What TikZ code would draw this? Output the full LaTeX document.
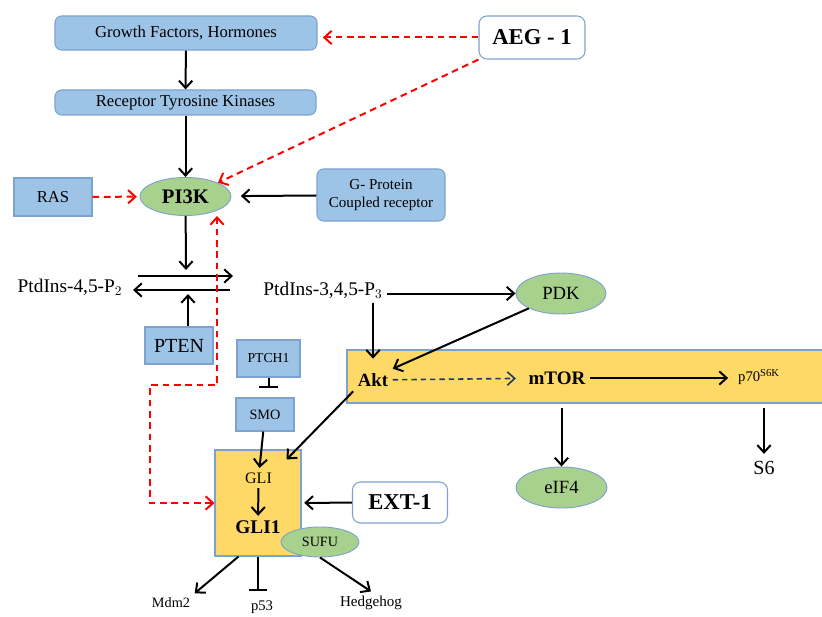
\documentclass[tikz,border=0pt]{standalone}
\usepackage{fontspec}
\setmainfont{Liberation Serif}
\usetikzlibrary{shapes, arrows.meta, positioning, calc}
\definecolor{boxblue}{HTML}{9DC3E6}
\definecolor{edgeblue}{HTML}{7DA2CF}
\definecolor{leafgreen}{HTML}{A9D18E}
\definecolor{paleyellow}{HTML}{FFD966}
\definecolor{darknavy}{HTML}{1F3864}
\newcommand{\fs}[1]{\fontsize{#1}{#1}\selectfont}

\begin{document}
\begin{tikzpicture}[x=0.75pt, y=-0.75pt, >={Straight Barb[length=5.5pt,width=10pt]},
    bluebox/.style={draw=edgeblue, fill=boxblue, rectangle, inner sep=0pt, line width=0.8pt},
    roundbox/.style={bluebox, rounded corners=5pt},
    whitebox/.style={draw=edgeblue, fill=white, rectangle, rounded corners=6pt, inner sep=0pt, line width=0.8pt},
    greenell/.style={draw=edgeblue, fill=leafgreen, ellipse, inner sep=0pt, line width=0.7pt},
    act/.style={->, line width=1.5pt},
    redact/.style={->, red, line width=1.5pt, dash pattern=on 5pt off 3.5pt},
    blocked/.style={-{Bar[width=14pt]}, line width=1.5pt}]
    \useasboundingbox (0,0) rectangle (822,617);

    % upstream of PI3K
    \node [roundbox, minimum width=196.5pt, minimum height=25.5pt, font=\fs{12.5}] (gf) at (186,33) {Growth Factors, Hormones};
    \node [roundbox, minimum width=195.75pt, minimum height=18.75pt, font=\fs{12.5}] (rtk) at (185.5,102.5) {Receptor Tyrosine Kinases};
    \node [whitebox, minimum width=79.5pt, minimum height=32.25pt, font=\fs{17}\bfseries] (aeg) at (532,37.5) {AEG - 1};
    \node [greenell, minimum width=68.25pt, minimum height=28.5pt, font=\fs{15.5}\bfseries] (pik) at (185.5,196.5) {PI3K};
    \node [bluebox, minimum width=58.5pt, minimum height=28.5pt, font=\fs{12.5}] (ras) at (53,197) {RAS};
    \node [roundbox, minimum width=96pt, minimum height=39pt, font=\fs{11.3}, align=center] (gpcr) at (381,195) {G- Protein\\[2pt]Coupled receptor};

    % phosphoinositides
    \node [font=\fs{14.5}] (pip2) at (70,287) {PtdIns-4,5-P$_2$};
    \node [font=\fs{14.5}] (pip3) at (323,290) {PtdIns-3,4,5-P$_3$};
    \node [bluebox, minimum width=51pt, minimum height=27.75pt, font=\fs{15}] (pten) at (179,345.5) {PTEN};
    \coordinate (fork) at (186,270);
    \coordinate (fwdA) at (138,276);
    \coordinate (fwdB) at (233,276);
    \coordinate (revA) at (230,290);
    \coordinate (revB) at (133,290);
    \coordinate (revmid) at (188,294);

    % hedgehog branch
    \node [bluebox, minimum width=47.25pt, minimum height=27.75pt, font=\fs{10.3}] (ptch) at (268.5,358.5) {PTCH1};
    \node [bluebox, minimum width=43.5pt, minimum height=24.75pt, font=\fs{10.7}] (smo) at (265,414.5) {SMO};
    \node [draw=edgeblue, fill=paleyellow, rectangle, minimum width=64.5pt, minimum height=79.5pt, line width=0.8pt] (glibox) at (258,503) {};
    \node [font=\fs{12}] (gli) at (258.5,478) {GLI};
    \node [font=\fs{14.5}\bfseries] (gli1) at (258,527) {GLI1};
    \node [greenell, minimum width=58.5pt, minimum height=22.5pt, font=\fs{10.6}] (sufu) at (320,542) {SUFU};
    \node [whitebox, minimum width=71.25pt, minimum height=30.75pt, font=\fs{17}\bfseries] (ext) at (400,502.5) {EXT-1};
    \node [font=\fs{10.7}] (mdm2) at (171,603) {Mdm2};
    \node [font=\fs{11}] (p53) at (262,607) {p53};
    \node [font=\fs{11.3}] (hh) at (371,603) {Hedgehog};
    \coordinate (loopA) at (150,385);
    \coordinate (loopB) at (217,385);

    % Akt / mTOR
    \node [greenell, minimum width=67.5pt, minimum height=30.75pt, font=\fs{14}] (pdk) at (561,293.5) {PDK};
    \node [draw=edgeblue, fill=paleyellow, rectangle, minimum width=357.75pt, minimum height=39.75pt, line width=0.8pt] (bar) at (585.5,376.5) {};
    \node [font=\fs{14}\bfseries] (akt) at (373,380) {Akt};
    \node [font=\fs{14.3}\bfseries] (mtor) at (557,378) {mTOR};
    \node [font=\fs{11}] (p70) at (759,377) {p70\textsuperscript{\fs{8}S6K}};
    \node [greenell, minimum width=68.25pt, minimum height=30.75pt, font=\fs{14}] (eif) at (561.5,487.5) {eIF4};
    \node [font=\fs{15}] (s6) at (764,468) {S6};

    \draw [act] (gf) -- (rtk);
    \draw [act] (rtk) -- (pik);
    \draw [redact, shorten >=4pt] (aeg.west) -- (aeg.west -| gf.east);
    \draw [redact] (aeg.south west) -- (pik.north east);
    \draw [redact, shorten >=2pt] (ras) -- (pik);
    \draw [act, shorten >=7pt] (gpcr) -- (pik);
    \draw [act] (pik) -- (fork);
    \draw [act] (fwdA) -- (fwdB);
    \draw [act] (revA) -- (revB);
    \draw [act] (pten.north -| revmid) -- (revmid);
    \draw [redact, <->] (glibox.west) -| (loopA) -- (loopB) -- (loopB |- pik.south);

    \draw [act] (pip3.east |- pdk) -- (pdk);
    \draw [act] (pip3.south -| akt) -- ($(akt.north)+(0,-10)$);
    \draw [act] (pdk.south west) -- (akt.north east);
    \draw [->, darknavy, line width=1.2pt, dash pattern=on 4pt off 3pt, shorten >=6pt] (akt) -- (mtor);
    \draw [act, shorten >=4pt] (mtor.east) -- (mtor.east -| p70.west);
    \draw [act, shorten <=3pt] (eif |- bar.south) -- (eif);
    \draw [act, shorten <=3pt, shorten >=2pt] (bar.south -| s6) -- (s6);

    \draw [act] (akt.south west) -- ($(glibox.north east)+(-15,10)$);
    \draw [blocked, shorten >=7pt] (ptch) -- (ptch |- smo.north);
    \draw [act] (smo) -- (gli);
    \draw [act] (gli) -- (gli1);
    \draw [act, shorten >=2pt] (ext) -- (glibox);
    \draw [act] (glibox.250) -- (mdm2.north east);
    \draw [blocked, shorten >=4pt] (glibox.south) -- (glibox.south |- p53.north);
    \draw [act] (sufu.south) -- (hh.north);
\end{tikzpicture}
\end{document}
